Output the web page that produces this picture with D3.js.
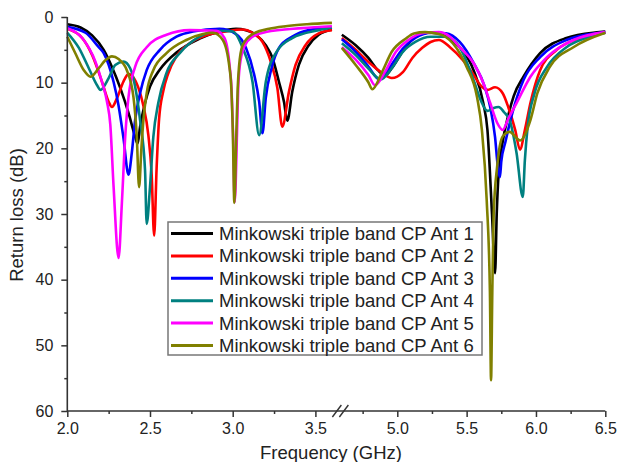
<!DOCTYPE html>
<html>
<head>
<meta charset="utf-8">
<script src="https://cdn.jsdelivr.net/npm/d3@7/dist/d3.min.js"></script>
<style>
  html, body { margin: 0; padding: 0; background: #fff; }
  svg { display: block; }
  text { font-family: "Liberation Sans", Arial, sans-serif; fill: #222; }
</style>
</head>
<body>
<svg id="chart" width="619" height="462"></svg>
<script>
// ---------------- data (frequency GHz, return loss dB) ----------------
const seriesNames = [
  "Minkowski triple band CP Ant 1",
  "Minkowski triple band CP Ant 2",
  "Minkowski triple band CP Ant 3",
  "Minkowski triple band CP Ant 4",
  "Minkowski triple band CP Ant 5",
  "Minkowski triple band CP Ant 6"
];
const seriesColors = ["#000000", "#ff0000", "#0000ff", "#008080", "#ff00ff", "#808000"];

const lowTicks = [2.0, 2.5, 3.0, 3.5];
const lowMinorTicks = [2.25, 2.75, 3.25];
const highTicks = [5.0, 5.5, 6.0, 6.5];
const highMinorTicks = [4.75, 5.25, 5.75, 6.25];
const yTicks = [0, 10, 20, 30, 40, 50, 60];
const yMinorTicks = [5, 15, 25, 35, 45, 55];

const ant1Low = [[2.00,1.1],[2.08,1.6],[2.15,2.8],[2.22,5.0],[2.27,7.6],[2.32,10.8],[2.37,14.6],[2.41,18.2],[2.425,19.3],[2.44,16.7],[2.47,13.1],[2.50,10.6],[2.56,8.0],[2.66,5.4],[2.80,3.3],[2.92,2.2],[3.02,1.8],[3.08,2.0],[3.14,2.7],[3.20,4.3],[3.24,6.2],[3.28,9.9],[3.31,12.9],[3.33,15.8],[3.36,11.4],[3.40,7.3],[3.46,4.3],[3.52,2.7],[3.60,1.9]];
const ant2Low = [[2.00,1.8],[2.09,3.2],[2.15,5.8],[2.21,9.9],[2.25,12.9],[2.27,13.7],[2.30,12.4],[2.34,9.8],[2.37,8.7],[2.40,9.2],[2.43,10.8],[2.46,13.5],[2.49,18.0],[2.51,24.0],[2.525,33.3],[2.54,23.0],[2.555,15.5],[2.58,11.3],[2.61,8.6],[2.66,6.0],[2.74,4.0],[2.84,2.8],[2.96,2.2],[3.06,1.9],[3.12,2.4],[3.18,3.8],[3.23,6.8],[3.27,10.8],[3.30,16.7],[3.34,11.4],[3.38,7.3],[3.44,4.3],[3.52,2.5],[3.60,2.0]];
const ant3Low = [[2.00,1.5],[2.11,2.4],[2.19,4.6],[2.22,5.5],[2.25,7.3],[2.28,9.9],[2.31,13.5],[2.34,18.5],[2.37,24.0],[2.39,20.7],[2.41,15.7],[2.44,11.6],[2.48,8.1],[2.56,5.0],[2.66,3.0],[2.76,2.2],[2.92,1.8],[3.02,2.6],[3.08,4.7],[3.13,8.8],[3.16,12.9],[3.18,17.7],[3.20,12.3],[3.235,7.8],[3.28,4.7],[3.36,3.0],[3.46,2.0],[3.60,1.6]];
const ant4Low = [[2.00,2.4],[2.07,4.7],[2.13,7.8],[2.18,10.4],[2.20,11.1],[2.25,9.3],[2.29,7.3],[2.34,6.8],[2.38,7.8],[2.41,10.6],[2.44,15.7],[2.47,23.3],[2.48,31.5],[2.50,25.9],[2.52,18.3],[2.55,13.1],[2.60,8.5],[2.68,5.5],[2.80,3.0],[2.92,2.1],[3.00,2.2],[3.06,4.7],[3.12,9.9],[3.16,18.0],[3.20,9.9],[3.265,5.3],[3.36,3.2],[3.52,2.0],[3.60,1.6]];
const ant5Low = [[2.00,1.7],[2.09,3.2],[2.17,6.8],[2.21,9.9],[2.24,12.9],[2.26,16.4],[2.28,25.9],[2.31,36.7],[2.33,28.3],[2.35,18.3],[2.37,12.2],[2.41,7.6],[2.48,4.6],[2.60,2.7],[2.74,2.0],[2.90,2.1],[2.95,3.2],[2.982,7.6],[2.993,11.0],[3.002,17.7],[3.012,28.2],[3.026,17.7],[3.033,11.0],[3.042,7.6],[3.07,4.5],[3.12,3.0],[3.20,2.3],[3.42,1.7],[3.60,1.4]];
const ant6Low = [[2.00,3.0],[2.05,5.6],[2.10,8.1],[2.14,9.1],[2.19,7.8],[2.23,6.6],[2.27,6.0],[2.31,6.4],[2.36,8.1],[2.40,12.2],[2.42,18.2],[2.434,25.9],[2.448,20.0],[2.46,15.7],[2.48,11.6],[2.52,8.1],[2.60,5.5],[2.72,3.5],[2.82,2.6],[2.88,2.4],[2.94,3.5],[2.98,7.6],[2.992,11.0],[3.001,17.7],[3.01,28.3],[3.022,17.7],[3.03,11.0],[3.038,7.6],[3.06,4.3],[3.12,2.6],[3.22,1.8],[3.32,1.4],[3.45,1.1],[3.60,0.9]];

const ant1High = [[4.60,2.7],[4.70,4.3],[4.79,6.2],[4.86,8.1],[4.91,8.9],[4.96,7.8],[5.04,5.2],[5.12,3.2],[5.22,2.4],[5.31,2.5],[5.38,3.3],[5.45,4.6],[5.55,8.1],[5.62,13.1],[5.65,17.2],[5.683,30.0],[5.705,39.0],[5.717,30.0],[5.73,24.0],[5.76,19.0],[5.80,15.0],[5.84,12.0],[5.91,9.1],[6.03,5.5],[6.22,3.2],[6.46,2.3],[6.50,2.2]];
const ant2High = [[4.60,3.2],[4.70,5.0],[4.79,6.8],[4.89,8.5],[4.96,9.3],[5.04,8.4],[5.11,6.2],[5.18,4.7],[5.24,3.8],[5.30,3.5],[5.38,4.6],[5.47,6.5],[5.55,8.8],[5.60,10.4],[5.65,11.1],[5.705,10.7],[5.76,11.6],[5.80,13.7],[5.85,17.2],[5.885,20.2],[5.92,17.2],[5.96,13.1],[6.03,8.1],[6.15,5.0],[6.32,3.2],[6.50,2.4]];
const ant3High = [[4.60,3.4],[4.70,5.3],[4.79,7.5],[4.87,9.5],[4.95,7.5],[5.04,4.8],[5.13,3.2],[5.25,2.4],[5.35,2.5],[5.45,3.8],[5.55,7.0],[5.63,10.6],[5.67,13.7],[5.705,18.3],[5.725,22.8],[5.74,24.4],[5.75,22.0],[5.78,19.0],[5.83,14.6],[5.91,9.6],[6.03,6.1],[6.22,3.5],[6.46,2.4],[6.50,2.3]];
const ant4High = [[4.60,4.0],[4.70,5.8],[4.79,7.8],[4.88,9.5],[4.96,7.8],[5.04,5.3],[5.13,3.8],[5.24,3.0],[5.35,3.0],[5.45,4.6],[5.55,9.6],[5.60,12.6],[5.65,14.3],[5.69,13.9],[5.73,13.7],[5.77,14.5],[5.81,15.7],[5.86,20.7],[5.905,27.4],[5.92,21.8],[5.94,16.7],[5.99,11.6],[6.08,7.6],[6.22,4.6],[6.39,3.0],[6.50,2.4]];
const ant5High = [[4.60,4.6],[4.70,6.5],[4.79,8.8],[4.84,10.4],[4.91,8.4],[4.99,5.3],[5.08,3.5],[5.20,2.4],[5.30,2.3],[5.38,3.0],[5.45,4.6],[5.55,7.0],[5.62,10.0],[5.67,13.1],[5.72,16.1],[5.76,17.2],[5.80,15.5],[5.86,13.1],[5.96,9.1],[6.08,6.1],[6.27,3.5],[6.50,2.3]];
const ant6High = [[4.60,4.7],[4.70,7.3],[4.79,9.9],[4.82,11.0],[4.89,8.4],[4.96,5.3],[5.06,3.3],[5.12,2.5],[5.20,2.3],[5.30,2.6],[5.40,4.0],[5.50,7.6],[5.575,12.2],[5.61,17.2],[5.645,28.0],[5.668,42.0],[5.676,55.3],[5.685,42.0],[5.695,30.0],[5.72,22.8],[5.76,18.2],[5.81,17.5],[5.885,18.8],[5.96,15.7],[6.01,11.6],[6.10,7.6],[6.27,4.6],[6.50,2.4]];

const lowData = [ant1Low, ant2Low, ant3Low, ant4Low, ant5Low, ant6Low];
const highData = [ant1High, ant2High, ant3High, ant4High, ant5High, ant6High];

// ---------------- scales ----------------
const svg = d3.select("#chart");
const xLow = d3.scaleLinear().domain([2.0, 3.5]).range([67.3, 315.4]);
const xHigh = d3.scaleLinear().domain([5.0, 6.5]).range([397.3, 605.3]);
const y = d3.scaleLinear().domain([0, 60]).range([17, 411]);
const axisColor = "#333";

// ---------------- curves (Ant 1 drawn first, Ant 6 on top) ----------------
const plot = svg.append("g");
const lineLow = d3.line().x(d => xLow(d[0])).y(d => y(d[1])).curve(d3.curveMonotoneX);
const lineHigh = d3.line().x(d => xHigh(d[0])).y(d => y(d[1])).curve(d3.curveMonotoneX);
for (let i = 0; i < seriesNames.length; i++) {
  [[lowData[i], lineLow], [highData[i], lineHigh]].forEach(([s, ln]) => {
    plot.append("path").datum(s)
      .attr("d", ln)
      .attr("fill", "none")
      .attr("stroke", seriesColors[i])
      .attr("stroke-width", 2.6)
      .attr("stroke-linejoin", "round");
  });
}

// ---------------- axes ----------------
const x0 = xLow(2.0), yBase = y(60);
const axes = svg.append("g");

function styleAxis(g) {
  g.select(".domain").remove();
  g.selectAll(".tick line").attr("stroke", axisColor).attr("stroke-width", 1.5);
  g.selectAll(".tick text").style("font-size", "16px").attr("fill", "#222");
}

axes.append("g").attr("transform", `translate(0,${yBase})`)
  .call(d3.axisBottom(xLow).tickValues(lowTicks).tickFormat(d3.format(".1f")).tickSize(6).tickPadding(6))
  .call(styleAxis);
axes.append("g").attr("transform", `translate(0,${yBase})`)
  .call(d3.axisBottom(xLow).tickValues(lowMinorTicks).tickFormat("").tickSize(3))
  .call(styleAxis);
axes.append("g").attr("transform", `translate(0,${yBase})`)
  .call(d3.axisBottom(xHigh).tickValues(highTicks).tickFormat(d3.format(".1f")).tickSize(6).tickPadding(6))
  .call(styleAxis);
axes.append("g").attr("transform", `translate(0,${yBase})`)
  .call(d3.axisBottom(xHigh).tickValues(highMinorTicks).tickFormat("").tickSize(3))
  .call(styleAxis);

axes.append("g").attr("transform", `translate(${x0},0)`)
  .call(d3.axisLeft(y).tickValues(yTicks).tickFormat(d3.format("d")).tickSize(6).tickPadding(8))
  .call(styleAxis);
axes.append("g").attr("transform", `translate(${x0},0)`)
  .call(d3.axisLeft(y).tickValues(yMinorTicks).tickFormat("").tickSize(3))
  .call(styleAxis);

axes.append("line").attr("x1", x0).attr("x2", x0).attr("y1", y(0)).attr("y2", yBase)
  .attr("stroke", axisColor).attr("stroke-width", 1.6);
axes.append("line").attr("x1", x0).attr("x2", xHigh(6.5)).attr("y1", yBase).attr("y2", yBase)
  .attr("stroke", axisColor).attr("stroke-width", 1.6);

// axis break marks "//"
const bx = (xLow(3.5) + xHigh(5.0)) / 2 - 20;
[0, 7].forEach(off => {
  axes.append("line")
    .attr("x1", bx + off - 4).attr("y1", yBase + 6)
    .attr("x2", bx + off + 5).attr("y2", yBase - 6)
    .attr("stroke", axisColor).attr("stroke-width", 1.4);
});

// axis titles
svg.append("text")
  .attr("x", 331).attr("y", 459)
  .attr("text-anchor", "middle")
  .style("font-size", "18.5px")
  .text("Frequency (GHz)");
svg.append("text")
  .attr("transform", "translate(23,215) rotate(-90)")
  .attr("text-anchor", "middle")
  .style("font-size", "18.5px")
  .text("Return loss (dB)");

// ---------------- legend ----------------
const legend = svg.append("g");
const lgX = 168, lgY = 222, lgW = 314, lgH = 133, rowH = 22.4;
legend.append("rect")
  .attr("x", lgX).attr("y", lgY).attr("width", lgW).attr("height", lgH)
  .attr("fill", "#fff").attr("stroke", "#777").attr("stroke-width", 1.5);
seriesNames.forEach((name, i) => {
  const ry = lgY + 11.5 + i * rowH;
  legend.append("line")
    .attr("x1", lgX + 3).attr("x2", lgX + 45)
    .attr("y1", ry).attr("y2", ry)
    .attr("stroke", seriesColors[i]).attr("stroke-width", 3);
  legend.append("text")
    .attr("x", lgX + 51).attr("y", ry)
    .attr("dy", "0.35em")
    .style("font-size", "18.5px")
    .text(name);
});
</script>
</body>
</html>
